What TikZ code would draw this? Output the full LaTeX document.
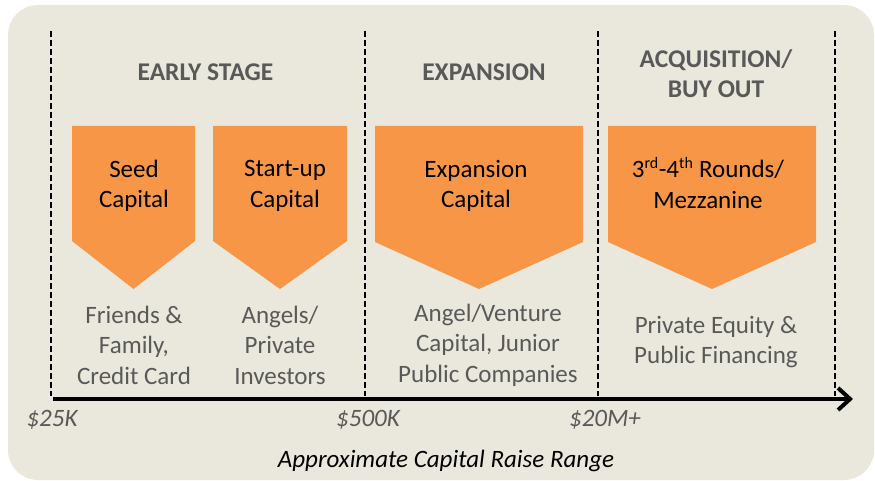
\documentclass[tikz,border=0pt]{standalone}
\usepackage{fontspec}
\setmainfont{Carlito}
\usetikzlibrary{arrows.meta}
\definecolor{bg}{HTML}{EAE8DC}
\definecolor{orng}{HTML}{F79646}
\definecolor{txtgray}{HTML}{595959}
\begin{document}
\begin{tikzpicture}[x=1pt,y=-1pt,
  penta/.style={fill=orng},
  boxtext/.style={align=center,inner sep=0pt,font=\fontsize{25}{30.5}\selectfont,text=black},
  srctext/.style={align=center,inner sep=0pt,font=\fontsize{25}{30.5}\selectfont,text=txtgray},
  headtext/.style={align=center,inner sep=0pt,font=\fontsize{25.5}{30}\selectfont\bfseries,text=txtgray},
  axlabel/.style={inner sep=0pt,font=\fontsize{25}{30}\selectfont\itshape,text=txtgray},
  divider/.style={line width=2.5pt,dash pattern=on 6pt off 3pt},
  axis/.style={line width=4.5pt,-{Straight Barb[length=12pt,width=22pt,line width=4pt]}}]
\useasboundingbox (0,0) rectangle (875,481);
\fill[bg, rounded corners=30pt] (8,5) rectangle (874,480);
% dividers
\coordinate (d1t) at (51,31);  \coordinate (d1b) at (51,396);
\coordinate (d2t) at (365,31); \coordinate (d2b) at (365,396);
\coordinate (d3t) at (598,31); \coordinate (d3b) at (598,396);
\coordinate (d4t) at (835,31); \coordinate (d4b) at (835,396);
\draw[divider] (d1t) -- (d1b);
\draw[divider] (d2t) -- (d2b);
\draw[divider] (d3t) -- (d3b);
\draw[divider] (d4t) -- (d4b);
% axis
\coordinate (axs) at (53,399);
\coordinate (axe) at (853,399);
\draw[axis] (axs) -- (axe);
% pentagons
\fill[penta] (72,126) -- (195,126) -- (195,241) -- (133.5,289) -- (72,241) -- cycle;
\fill[penta] (213,126) -- (347,126) -- (347,241) -- (280,289) -- (213,241) -- cycle;
\fill[penta] (375,126) -- (583,126) -- (583,242) -- (479,289) -- (375,242) -- cycle;
\fill[penta] (608,126) -- (816,126) -- (816,242) -- (712,289) -- (608,242) -- cycle;
% headings
\node[headtext] (h1) at (205.5,72) {EARLY STAGE};
\node[headtext] (h2) at (484,72) {EXPANSION};
\node[headtext] (h3) at (716,74) {ACQUISITION/\\BUY OUT};
% box texts
\node[boxtext] (b1) at (134,186) {Seed\\Capital};
\node[boxtext] (b2) at (285,186) {Start-up\\Capital};
\node[boxtext] (b3) at (476,186) {Expansion\\Capital};
\node[boxtext] (b4) at (708,183) {3\textsuperscript{\fontsize{16}{16}\selectfont rd}-4\textsuperscript{\fontsize{16}{16}\selectfont th} Rounds/\\Mezzanine};
% sources
\node[srctext] (s1) at (134,345) {Friends \&\\Family,\\Credit Card};
\node[srctext] (s2) at (280,345) {Angels/\\Private\\Investors};
\node[srctext] (s3) at (488,345) {Angel/Venture\\Capital, Junior\\Public Companies};
\node[srctext] (s4) at (716,342) {Private Equity \&\\Public Financing};
% axis labels
\node[axlabel] (l1) at (52,420) {\$25K};
\node[axlabel] (l2) at (368,420) {\$500K};
\node[axlabel] (l3) at (605,420) {\$20M+};
\node[axlabel,text=black] (cap) at (446,461) {Approximate Capital Raise Range};
\end{tikzpicture}
\end{document}
